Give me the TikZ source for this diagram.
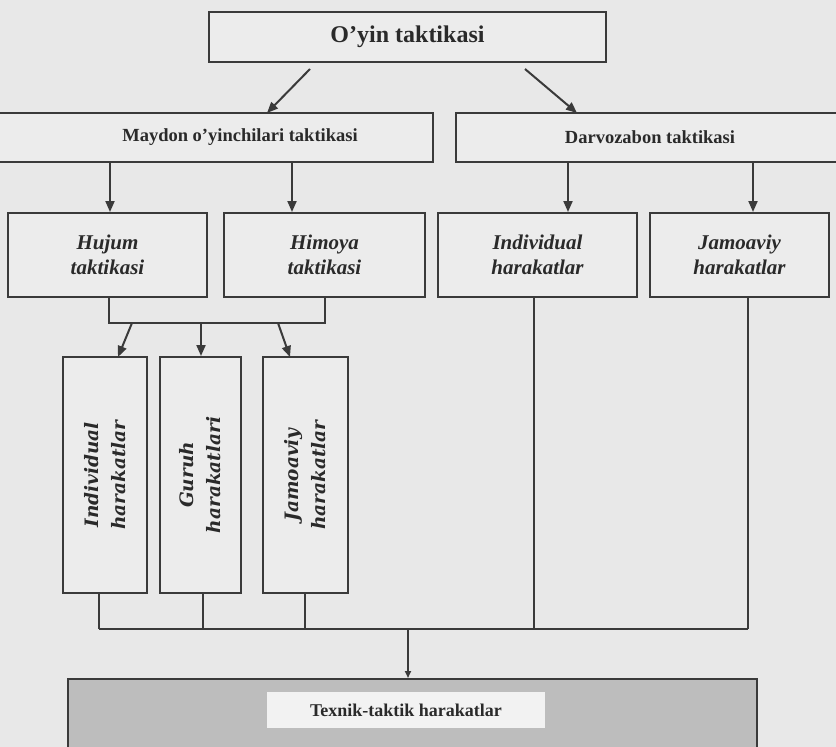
\documentclass[tikz,border=0pt]{standalone}
\usepackage{fontspec}
\setmainfont{Liberation Serif}
\newfontfamily\dvs{DejaVu Serif}
\usetikzlibrary{arrows.meta}
\definecolor{bg}{HTML}{E8E8E8}
\definecolor{ln}{HTML}{3A3A3A}
\definecolor{boxfill}{HTML}{ECECEC}
\definecolor{darkfill}{HTML}{BDBDBD}
\definecolor{labfill}{HTML}{F2F2F2}
\definecolor{txt}{HTML}{2A2A2A}
\begin{document}
\begin{tikzpicture}[x=1pt,y=-1pt,
  line/.style={draw=ln, line width=2pt},
  arr/.style={draw=ln, line width=2pt, -{Triangle[length=11pt,width=9pt]}},
  box/.style={draw=ln, line width=2pt, fill=boxfill, inner sep=0pt, text=txt},
  hfont/.style={font=\bfseries\fontsize{18.5}{22}\selectfont, text=txt},
  tfont/.style={font=\bfseries\itshape\fontsize{21}{25}\selectfont, align=center},
  vfont/.style={font=\dvs\bfseries\itshape\fontsize{18.5}{27}\selectfont, align=center, rotate=90, text=txt}
]
\useasboundingbox (0,0) rectangle (836,747);
\clip (0,0) rectangle (836,747);
\fill[bg] (0,0) rectangle (836,747);

% level 1
\node[box, minimum width=397pt, minimum height=50pt, font=\bfseries\fontsize{24}{28}\selectfont] (top) at (407.5,37) {O'yin taktikasi};

% level 2
\node[box, minimum width=443pt, minimum height=49pt] (may) at (211.5,137.5) {};
\node[hfont] (mayt) at (240,137.5) {Maydon o'yinchilari taktikasi};
\node[box, minimum width=388pt, minimum height=49pt, hfont] (dar) at (650,137.5) {Darvozabon taktikasi};

\coordinate (t1) at (310,69);
\coordinate (t2) at (525,69);
\coordinate (m0) at (267,113);
\coordinate (d0) at (577,113);
\draw[arr] (t1) -- (m0);
\draw[arr] (t2) -- (d0);

% level 3
\node[box, minimum width=199pt, minimum height=84pt, tfont] (huj) at (107.5,255) {Hujum\\taktikasi};
\node[box, minimum width=201pt, minimum height=84pt, tfont] (him) at (324.5,255) {Himoya\\taktikasi};
\node[box, minimum width=199pt, minimum height=84pt, tfont] (ind) at (537.5,255) {Individual\\harakatlar};
\node[box, minimum width=179pt, minimum height=84pt, tfont] (jam) at (739.5,255) {Jamoaviy\\harakatlar};

\coordinate (m1) at (110,162);
\coordinate (m2) at (292,162);
\coordinate (d1) at (568,162);
\coordinate (d2) at (753,162);
\draw[arr] (m1) -- (huj.north -| m1);
\draw[arr] (m2) -- (him.north -| m2);
\draw[arr] (d1) -- (ind.north -| d1);
\draw[arr] (d2) -- (jam.north -| d2);

% level 4
\node[box, minimum width=236pt, minimum height=84pt, rotate=90] (v1) at (105,475) {};
\node[vfont] (v1t) at (105,475) {Individual\\harakatlar};
\node[box, minimum width=236pt, minimum height=81pt, rotate=90] (v2) at (200.5,475) {};
\node[vfont] (v2t) at (200.5,475) {Guruh\\harakatlari};
\node[box, minimum width=236pt, minimum height=85pt, rotate=90] (v3) at (305.5,475) {};
\node[vfont] (v3t) at (305.5,475) {Jamoaviy\\harakatlar};

\coordinate (bl) at (109,323);
\coordinate (br) at (325,323);
\draw[line] (huj.south -| bl) -- (bl) -- (br) -- (him.south -| br);
\coordinate (s1) at (132,323);
\coordinate (s2) at (201,323);
\coordinate (s3) at (278,323);
\coordinate (e1) at (118,357);
\coordinate (e3) at (290,357);
\draw[arr] (s1) -- (e1);
\draw[arr] (s2) -- (s2 |- v2.east);
\draw[arr] (s3) -- (e3);

% collector
\coordinate (c1) at (99,629);
\coordinate (c2) at (203,629);
\coordinate (c3) at (305,629);
\coordinate (c4) at (534,629);
\coordinate (c5) at (748,629);
\coordinate (cm) at (408,629);
\draw[line] (v1.west -| c1) -- (c1);
\draw[line] (v2.west -| c2) -- (c2);
\draw[line] (v3.west -| c3) -- (c3);
\draw[line] (ind.south -| c4) -- (c4);
\draw[line] (jam.south -| c5) -- (c5);
\draw[line] (c1) -- (c5);

% bottom
\node[box, fill=darkfill, minimum width=689pt, minimum height=82pt] (bot) at (412.5,720) {};
\node[fill=labfill, minimum width=278pt, minimum height=36pt, inner sep=0pt, text=txt, font=\bfseries\fontsize{18}{22}\selectfont] (lab) at (406,710) {Texnik-taktik harakatlar};
\draw[line, -{Triangle[length=7pt,width=6pt]}] (cm) -- (bot.north -| cm);
\end{tikzpicture}
\end{document}
